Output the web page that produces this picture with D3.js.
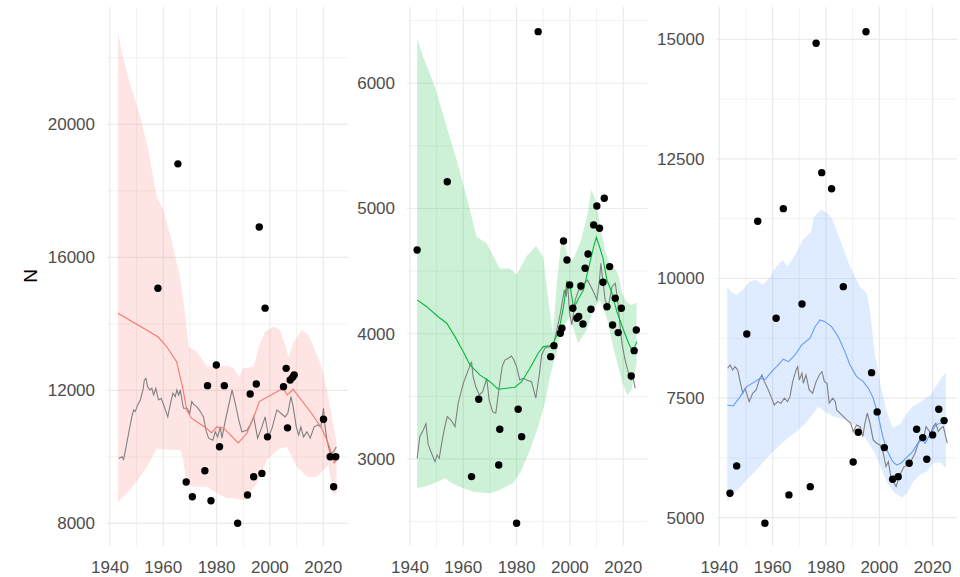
<!DOCTYPE html>
<html>
<head>
<meta charset="utf-8">
<script src="https://cdn.jsdelivr.net/npm/d3@7"></script>
<style>
  body { margin: 0; background: #fff; }
  text { font-family: "Liberation Sans", Arial, sans-serif; }
</style>
</head>
<body>
<svg id="chart" width="960" height="577"></svg>
<script>
// ---- data: [year, N] ----
var xTicks = [1940, 1960, 1980, 2000, 2020];

// panel 1 (red)
var obs1 = [[1958,15070],[1965.5,18810],[1968.6,9240],[1970.9,8800],[1975.6,9580],[1976.6,12140],[1977.9,8680],[1979.9,12760],[1981.1,10300],[1982.9,12140],[1987.9,8000],[1991.6,8850],[1992.6,11890],[1993.9,9400],[1994.9,12190],[1996,16910],[1997,9500],[1998.2,14470],[1999.1,10600],[2005.1,12110],[2006.1,12660],[2006.6,10870],[2007.6,12310],[2008.5,12390],[2009.1,12460],[2020.1,11130],[2022.6,10000],[2024.7,10000],[2023.9,9100]];
var mean1 = [[1943,14315],[1958,13610],[1961.3,13310],[1965,12860],[1967.2,12110],[1968.8,11410],[1970.6,11160],[1976.2,10860],[1978.1,10720],[1980,10900],[1982.7,10860],[1988.1,10420],[1991.3,10700],[1994,11200],[1996,11660],[2005,12060],[2006.5,11860],[2008.7,12030],[2015.6,11310],[2019.4,10860],[2021.9,10400],[2023.1,10100],[2024.1,9820],[2025,9900]];
var hi1 = [[1943,22770],[1944.8,22030],[1947.5,21230],[1951.2,20280],[1954.4,19230],[1957.5,17820],[1960,17420],[1963.1,16520],[1966.2,15420],[1967.5,14720],[1968.5,14110],[1969.5,13310],[1972.6,13160],[1976.4,12710],[1983.9,12740],[1986.5,12660],[1988.5,12400],[1990,12660],[1993.9,12710],[1995.8,13310],[1998.2,13760],[2001.4,13910],[2003.9,13810],[2007,13010],[2008.9,13460],[2012,13810],[2014.5,13660],[2018.9,12810],[2021.4,12010],[2023.9,10900],[2025,10400]];
var lo1 = [[1943,8650],[1946.4,8900],[1951.4,9400],[1954.5,9800],[1957.6,10250],[1960.7,10220],[1966.4,10200],[1967.6,9900],[1968.2,9400],[1970.7,9100],[1976.4,9100],[1980.1,8900],[1983.9,8750],[1986.4,8750],[1990.1,8700],[1995.1,9200],[1998.9,9900],[2002,10150],[2003.9,10250],[2006.4,10300],[2010.1,9700],[2013.9,9400],[2017.6,9400],[2020.7,9650],[2022,9750],[2023.6,8900],[2025,8850]];
var gray1 = [[1943.3,9950],[1944.5,10000],[1945.1,9920],[1945.7,10150],[1947,10700],[1948.2,11200],[1948.9,11410],[1949.5,11360],[1950.4,11560],[1951.4,11710],[1952.4,12010],[1952.9,12310],[1953.5,12360],[1954.1,12110],[1954.9,12010],[1955.7,12060],[1956.4,11860],[1957.2,12060],[1958.2,11710],[1959.2,11760],[1960.4,11510],[1961.7,11200],[1962.6,11560],[1963.6,11910],[1964.5,11810],[1965.1,12010],[1965.8,11860],[1966.4,12010],[1967,11710],[1967.6,11460],[1968.9,11460],[1969.9,11310],[1970.7,11660],[1971.6,11560],[1972.6,11510],[1973.9,11360],[1975.1,11200],[1976,10800],[1977,10560],[1978.6,10500],[1979.5,10750],[1980.4,10600],[1981.4,10900],[1982,10560],[1983.2,11060],[1983.9,11310],[1985.8,12010],[1987,11610],[1988.3,11110],[1989.5,10750],[1991.4,10800],[1992.6,10960],[1993.9,11200],[1995.4,10560],[1997,10900],[1998.2,11200],[1999.5,10600],[2000.8,10860],[2002.6,11410],[2004.1,11310],[2005.7,11200],[2006.7,11310],[2007.9,11810],[2008.6,11560],[2009.9,10900],[2010.8,10650],[2011.6,10900],[2012.6,10600],[2013.9,10750],[2015.1,10560],[2016.6,10900],[2017.9,10960],[2019.1,10900],[2020.1,11460],[2020.7,10900],[2021.4,10500],[2022.6,10100],[2023.9,10150],[2024.9,10300]];

// panel 2 (green)
var obs2 = [[1942.7,4669],[1954,5214],[1988.1,6412],[1963.1,2859],[1965.8,3477],[1973.3,2952],[1973.7,3237],[1980.6,3397],[1981.9,3178],[1980,2487],[1992.8,3817],[1994,3905],[1996.4,4004],[1997,4044],[1997.6,4741],[1998.9,4589],[1999.9,4390],[2001.1,4203],[2002.6,4124],[2003.3,4137],[2004.1,4381],[2004.9,4078],[2005.7,4523],[2006.8,4637],[2007.9,4195],[2008.9,4869],[2010.1,5020],[2011.1,4842],[2012.9,5082],[2012.4,4411],[2013.9,4216],[2014.9,4536],[2016,4070],[2017,4283],[2018.1,4009],[2019.3,4203],[2023,3663],[2024.1,3865],[2024.9,4030]];
var mean2 = [[1942.7,4270],[1946.3,4216],[1950.6,4136],[1953.8,4084],[1956.9,3977],[1960,3857],[1962.5,3751],[1966.2,3671],[1970,3617],[1973.1,3557],[1976.3,3565],[1979.4,3573],[1981.9,3617],[1985,3724],[1988.1,3844],[1990,3897],[1993.2,3905],[1995.8,4017],[1997.6,4216],[1998.9,4416],[2000.1,4376],[2001.4,4203],[2003.3,4283],[2005.1,4350],[2007,4523],[2008.9,4695],[2009.9,4770],[2011.1,4695],[2012.4,4603],[2013.9,4429],[2015.8,4323],[2017.6,4176],[2020.1,4030],[2022,3924],[2023.6,3857],[2025.1,3937]];
var hi2 = [[1942.7,6360],[1945,6210],[1949.4,5970],[1953.8,5650],[1957.5,5390],[1961.3,5090],[1965,4775],[1968.8,4720],[1973.7,4520],[1977.5,4520],[1980,4470],[1983.8,4620],[1987.3,4700],[1990,4615],[1991.4,4350],[1993.6,4000],[1995.1,4400],[1996.7,4735],[1998,4720],[1999.8,4563],[2001.7,4615],[2004.2,4749],[2006.7,4962],[2008,5148],[2009.7,5068],[2011.6,4829],[2013.5,4642],[2015.4,4536],[2017.2,4510],[2018.4,4456],[2019.6,4323],[2021.4,4250],[2023.2,4230],[2025,4250]];
var lo2 = [[1942.7,2766],[1947.5,2792],[1953.1,2846],[1956.9,2792],[1963.7,2739],[1970,2726],[1973.7,2752],[1978.7,2806],[1981.9,2912],[1985,3072],[1988.1,3258],[1990.6,3445],[1992.5,3657],[1995,3857],[1996.9,4030],[2000,4137],[2003.1,3924],[2006.3,4030],[2008.7,4190],[2011.2,4270],[2013.7,4137],[2016.2,3897],[2019.4,3631],[2021.5,3511],[2023.1,3551],[2025,3764]];
var gray2 = [[1942.7,3006],[1943.7,3178],[1945,3232],[1946,3280],[1946.9,3112],[1948.1,3046],[1949.4,2979],[1950.2,3032],[1951,3006],[1951.9,3126],[1953.1,3258],[1954,3338],[1955.4,3311],[1956.9,3258],[1958.1,3445],[1960,3604],[1961.9,3711],[1963.1,3777],[1963.7,3657],[1964.7,3577],[1966,3511],[1967.3,3538],[1968.8,3644],[1969.7,3471],[1971,3378],[1972.2,3365],[1973.5,3577],[1974.6,3737],[1975.6,3790],[1976.9,3804],[1978.1,3822],[1979,3790],[1980,3737],[1981.2,3631],[1982.5,3644],[1983.8,3631],[1985.6,3617],[1987.2,3485],[1988.5,3671],[1989.4,3830],[1990.6,3884],[1992.5,3897],[1994,3924],[1995.1,4030],[1996.4,4163],[1997.9,4350],[1998.6,4296],[1999.1,4403],[1999.9,4163],[2000.7,4070],[2002,4270],[2003.3,4350],[2004.5,4350],[2005.4,4403],[2006.6,4429],[2007.9,4376],[2009.1,4323],[2010.1,4270],[2011.1,4429],[2011.6,4563],[2012.4,4416],[2013.2,4270],[2014.4,4216],[2015.8,4376],[2017,4403],[2017.9,4270],[2018.6,4110],[2019.5,3924],[2020.7,3790],[2022,3684],[2022.9,3631],[2023.6,3657],[2024.5,3565]];

// panel 3 (blue)
var obs3 = [[1976.3,14916],[1995,15159],[1978.4,12212],[1982.1,11877],[1964,11460],[1954.4,11196],[1986.5,9829],[1944,5511],[1946.5,6082],[1950.3,8841],[1961.3,9169],[1971,9468],[1957.1,4885],[1966.1,5476],[1974.1,5649],[1997.1,8032],[1999.2,7211],[1992.1,6786],[1990.2,6165],[2001.9,6465],[2005,5804],[2007.1,5858],[2011.2,6138],[2014,6849],[2016.3,6674],[2017.8,6222],[2020,6730],[2022.3,7267],[2024.3,7029]];
var mean3 = [[1943,7357],[1945.2,7336],[1947.8,7530],[1950.3,7739],[1953.4,7844],[1955.3,7915],[1957.1,7879],[1959.6,8053],[1962.1,8193],[1964,8312],[1965.9,8262],[1968.4,8402],[1970.9,8611],[1974,8751],[1975.9,8993],[1977.8,9133],[1979.6,9098],[1982.1,8993],[1984.6,8784],[1987.1,8471],[1989,8193],[1991.5,7948],[1994,7844],[1995.9,7700],[1997.5,7530],[1999.4,7183],[2001.3,6694],[2003.1,6381],[2005,6172],[2006.5,6103],[2008.1,6138],[2010,6243],[2012.5,6381],[2014.4,6556],[2016,6625],[2017.2,6556],[2018.7,6709],[2021.2,6939],[2022.8,6974],[2025,6974]];
var hi3 = [[1943,9829],[1944.4,9725],[1946.3,9656],[1948.8,9760],[1951.2,9934],[1953.8,9969],[1956.3,9865],[1958.7,10005],[1961.3,10247],[1963.8,10387],[1965.6,10247],[1968.8,10527],[1971.3,10805],[1974.4,10979],[1975.6,11292],[1978.1,11432],[1980.6,11363],[1982.5,11223],[1985.3,10805],[1989,10247],[1992.8,9829],[1995.3,9691],[1996.5,9342],[1998.1,8506],[2000.1,7880],[2002.5,7252],[2005,6880],[2007.8,6950],[2010.3,7180],[2012.5,7322],[2016.3,7450],[2019,7560],[2022.3,7840],[2024.6,8019],[2025,8000]];
var lo3 = [[1943,5336],[1946.5,5560],[1950.3,5800],[1954,6000],[1957.8,6250],[1961.5,6450],[1965.3,6650],[1969,6800],[1972.8,7000],[1975.3,7183],[1977.1,7321],[1979.6,7217],[1982.7,7113],[1987.8,7044],[1991.5,6903],[1995.3,6625],[1998.4,6347],[2000.9,6000],[2003.4,5685],[2005.9,5511],[2008.4,5420],[2010.3,5500],[2012.7,5750],[2015.3,5900],[2017.8,5960],[2020.2,6150],[2022.8,6160],[2025,6040]];
var gray3 = [[1943.1,8124],[1944,8193],[1945,8088],[1945.9,8158],[1946.9,8088],[1947.8,7844],[1948.8,7601],[1949.7,7706],[1950.6,7530],[1951.2,7426],[1952.5,7601],[1953.8,7670],[1955,7879],[1956,7984],[1956.9,7844],[1958.1,7706],[1959.4,7530],[1960.6,7357],[1961.9,7426],[1963.1,7392],[1964.4,7497],[1965.6,7426],[1966.5,7530],[1967.5,7844],[1968.8,8088],[1969.4,8158],[1970,7879],[1971,8019],[1971.5,7810],[1972.5,7984],[1973.7,7670],[1975,7601],[1976.3,7844],[1977.5,7984],[1978.5,8053],[1979.4,7844],[1980.4,7810],[1981.2,7392],[1982.5,7497],[1983.5,7426],[1984,7252],[1985.9,7148],[1987.8,7044],[1989.3,6974],[1990.2,6799],[1991.5,6939],[1992.8,6903],[1993.8,6694],[1994.6,6974],[1995.5,7183],[1996.5,6974],[1997.7,6625],[1999,6556],[2000.3,6521],[2001.5,6347],[2002.5,6068],[2003.4,6172],[2004.3,5858],[2005.2,5754],[2006.3,5650],[2007.1,5790],[2008,5929],[2009.3,6068],[2010.9,6103],[2012.1,6208],[2013.4,6347],[2014.6,6556],[2015.6,6694],[2016.5,6625],[2017.5,6903],[2018.4,6834],[2019.3,6765],[2020.2,6903],[2021.2,6974],[2022.1,6799],[2023.1,6869],[2024,6903],[2024.9,6694],[2025.5,6556]];

var panels = [
  {left: 107, domain: [7317, 23528], ticks: [8000, 12000, 16000, 20000], minor: [10000, 14000, 18000, 22000],
   color: "#F8766D", obs: obs1, mean: mean1, lo: lo1, hi: hi1, gray: gray1},
  {left: 407, domain: [2305, 6609], ticks: [3000, 4000, 5000, 6000], minor: [2500, 3500, 4500, 5500, 6500],
   color: "#00BA38", obs: obs2, mean: mean2, lo: lo2, hi: hi2, gray: gray2},
  {left: 716.4, domain: [4408, 15675], ticks: [5000, 7500, 10000, 12500, 15000], minor: [6250, 8750, 11250, 13750],
   color: "#619CFF", obs: obs3, mean: mean3, lo: lo3, hi: hi3, gray: gray3}
];

var svg = d3.select("#chart");
var plotTop = 7, plotBottom = 546, pw = 240.5;
var xMinor = [1950, 1970, 1990, 2010];

panels.forEach(function(p) {
  var x = d3.scaleLinear().domain([1938.9, 2029.1]).range([p.left, p.left + pw]);
  var y = d3.scaleLinear().domain(p.domain).range([plotBottom, plotTop]);
  var g = svg.append("g");

  // grid
  g.selectAll(".hmin").data(p.minor).enter().append("line")
    .attr("x1", x.range()[0]).attr("x2", x.range()[1])
    .attr("y1", function(d) { return y(d); }).attr("y2", function(d) { return y(d); })
    .attr("stroke", "#f0f0f0").attr("stroke-width", 0.9);
  g.selectAll(".vmin").data(xMinor).enter().append("line")
    .attr("y1", plotTop).attr("y2", plotBottom)
    .attr("x1", function(d) { return x(d); }).attr("x2", function(d) { return x(d); })
    .attr("stroke", "#f0f0f0").attr("stroke-width", 0.9);
  g.selectAll(".hmaj").data(p.ticks).enter().append("line")
    .attr("x1", x.range()[0]).attr("x2", x.range()[1])
    .attr("y1", function(d) { return y(d); }).attr("y2", function(d) { return y(d); })
    .attr("stroke", "#ebebeb").attr("stroke-width", 1.2);
  g.selectAll(".vmaj").data(xTicks).enter().append("line")
    .attr("y1", plotTop).attr("y2", plotBottom)
    .attr("x1", function(d) { return x(d); }).attr("x2", function(d) { return x(d); })
    .attr("stroke", "#ebebeb").attr("stroke-width", 1.2);

  // ribbon
  var ln = d3.line().x(function(d) { return x(d[0]); }).y(function(d) { return y(d[1]); });
  var poly = p.hi.concat(p.lo.slice().reverse());
  g.append("path").attr("d", ln(poly) + "Z")
    .attr("fill", p.color).attr("fill-opacity", 0.2);

  // lines
  g.append("path").datum(p.gray).attr("d", ln)
    .attr("fill", "none").attr("stroke", "#808080").attr("stroke-width", 1.1);
  g.append("path").datum(p.mean).attr("d", ln)
    .attr("fill", "none").attr("stroke", p.color).attr("stroke-width", 1.1);

  // points
  g.selectAll(".dot").data(p.obs).enter().append("circle")
    .attr("cx", function(d) { return x(d[0]); })
    .attr("cy", function(d) { return y(d[1]); })
    .attr("r", 3.7).attr("fill", "#000");

  // axes text
  g.selectAll(".yl").data(p.ticks).enter().append("text")
    .attr("x", p.left - 12).attr("y", function(d) { return y(d); })
    .attr("dy", "0.35em").attr("text-anchor", "end")
    .attr("font-size", 17).attr("fill", "#4d4d4d")
    .text(d3.format("d"));
  g.selectAll(".xl").data(xTicks).enter().append("text")
    .attr("x", function(d) { return x(d); }).attr("y", 573)
    .attr("text-anchor", "middle")
    .attr("font-size", 17).attr("fill", "#4d4d4d")
    .text(d3.format("d"));
});

svg.append("text")
  .attr("transform", "translate(37,276) rotate(-90)")
  .attr("text-anchor", "middle")
  .attr("font-size", 19).attr("fill", "#000")
  .text("N");
</script>
</body>
</html>
